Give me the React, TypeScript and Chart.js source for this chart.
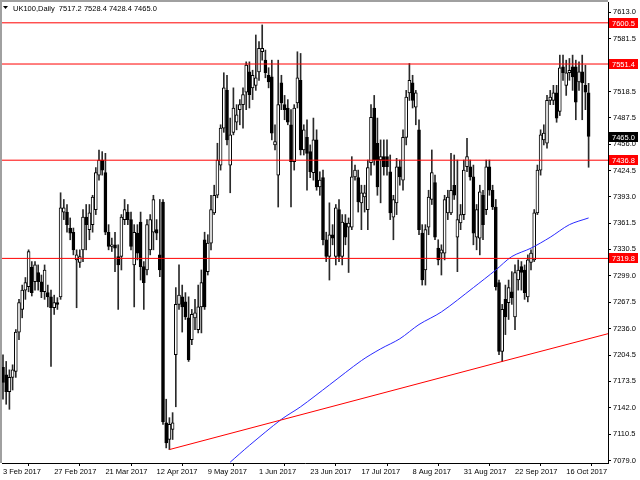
import React, { useEffect, useRef } from 'react';
import { Chart, registerables } from 'chart.js';

Chart.register(...registerables);

// ---------- data ----------
const symbolTitle = 'UK100,Daily';

const opens = [
  7190, 7181, 7161, 7178, 7185, 7232, 7259, 7282, 7286, 7309,
  7292, 7303, 7292, 7280, 7279, 7274, 7261, 7267, 7274, 7375,
  7375, 7356, 7351, 7318, 7315, 7330, 7369, 7354, 7360, 7378,
  7419, 7437, 7422, 7351, 7334, 7336, 7322, 7322, 7366, 7375,
  7366, 7312, 7350, 7363, 7310, 7306, 7330, 7351, 7354, 7324,
  7387, 7124, 7104, 7116, 7205, 7265, 7274, 7268, 7249, 7223,
  7249, 7235, 7262, 7342, 7304, 7338, 7374, 7395, 7431, 7475,
  7520, 7431, 7470, 7482, 7497, 7503, 7518, 7542, 7523, 7526,
  7542, 7566, 7556, 7538, 7536, 7455, 7419, 7529, 7503, 7499,
  7479, 7435, 7505, 7532, 7449, 7464, 7447, 7422, 7461, 7405,
  7416, 7342, 7322, 7348, 7322, 7378, 7322, 7362, 7357, 7357,
  7417, 7416, 7386, 7393, 7378, 7434, 7499, 7457, 7437, 7441,
  7441, 7423, 7369, 7386, 7429, 7413, 7464, 7517, 7529, 7500,
  7473, 7350, 7306, 7357, 7390, 7410, 7332, 7326, 7326, 7374,
  7374, 7407, 7345, 7362, 7372, 7429, 7429, 7417, 7345, 7344,
  7395, 7378, 7429, 7401, 7381, 7291, 7209, 7271, 7267, 7280,
  7250, 7294, 7310, 7306, 7274, 7315, 7318, 7374, 7425, 7461,
  7457, 7508, 7508, 7517, 7495, 7548, 7526, 7541, 7548, 7548,
  7530, 7542, 7526, 7517.2,
];
const highs = [
  7205, 7197, 7187, 7193, 7235, 7271, 7288, 7297, 7330, 7316,
  7316, 7312, 7300, 7312, 7288, 7282, 7276, 7273, 7398, 7390,
  7384, 7368, 7356, 7330, 7330, 7378, 7384, 7384, 7395, 7428,
  7449, 7447, 7445, 7360, 7344, 7351, 7336, 7372, 7390, 7384,
  7375, 7360, 7360, 7375, 7316, 7366, 7372, 7395, 7366, 7390,
  7390, 7152, 7130, 7136, 7285, 7312, 7288, 7279, 7274, 7259,
  7271, 7288, 7306, 7351, 7348, 7395, 7407, 7457, 7479, 7541,
  7538, 7487, 7523, 7503, 7509, 7523, 7554, 7554, 7544, 7586,
  7578, 7598, 7568, 7547, 7556, 7479, 7556, 7538, 7514, 7509,
  7497, 7503, 7566, 7564, 7479, 7485, 7455, 7487, 7473, 7423,
  7425, 7351, 7386, 7360, 7384, 7390, 7372, 7372, 7368, 7441,
  7431, 7425, 7407, 7407, 7437, 7503, 7514, 7487, 7461, 7461,
  7461, 7443, 7395, 7439, 7437, 7473, 7520, 7552, 7538, 7520,
  7485, 7360, 7360, 7401, 7449, 7419, 7342, 7336, 7395, 7401,
  7445, 7443, 7437, 7384, 7437, 7463, 7437, 7431, 7384, 7407,
  7401, 7437, 7437, 7407, 7390, 7294, 7265, 7288, 7294, 7304,
  7312, 7318, 7316, 7312, 7324, 7330, 7378, 7431, 7473, 7479,
  7514, 7520, 7526, 7526, 7562, 7562, 7556, 7558, 7562, 7556,
  7554, 7562, 7550, 7528.4,
];
const lows = [
  7152, 7146, 7140, 7163, 7178, 7223, 7249, 7271, 7280, 7275,
  7282, 7282, 7273, 7271, 7262, 7191, 7253, 7259, 7271, 7366,
  7351, 7342, 7324, 7261, 7309, 7316, 7330, 7342, 7351, 7372,
  7413, 7419, 7348, 7330, 7328, 7304, 7259, 7306, 7360, 7360,
  7330, 7262, 7318, 7294, 7259, 7300, 7324, 7330, 7342, 7298,
  7122, 7094, 7092, 7104, 7143, 7259, 7232, 7247, 7197, 7217,
  7235, 7231, 7231, 7259, 7300, 7330, 7372, 7392, 7425, 7470,
  7455, 7398, 7467, 7473, 7479, 7475, 7497, 7499, 7509, 7520,
  7532, 7556, 7535, 7523, 7461, 7449, 7381, 7497, 7485, 7479,
  7381, 7425, 7499, 7443, 7443, 7401, 7416, 7413, 7401, 7395,
  7336, 7316, 7294, 7336, 7312, 7316, 7312, 7336, 7303, 7354,
  7413, 7375, 7354, 7375, 7354, 7419, 7431, 7395, 7386, 7419,
  7419, 7366, 7342, 7372, 7407, 7401, 7455, 7508, 7499, 7479,
  7348, 7288, 7288, 7348, 7384, 7342, 7312, 7300, 7318, 7366,
  7372, 7390, 7304, 7354, 7366, 7423, 7413, 7336, 7330, 7324,
  7342, 7372, 7395, 7378, 7282, 7205, 7197, 7229, 7247, 7265,
  7235, 7282, 7282, 7271, 7268, 7306, 7316, 7372, 7419, 7455,
  7451, 7503, 7503, 7482, 7490, 7532, 7514, 7532, 7520, 7485,
  7520, 7485, 7497, 7428.4,
];
const closes = [
  7172, 7161, 7178, 7187, 7232, 7267, 7282, 7291, 7328, 7279,
  7312, 7292, 7280, 7306, 7274, 7261, 7267, 7265, 7380, 7380,
  7360, 7350, 7330, 7324, 7322, 7369, 7360, 7374, 7393, 7422,
  7437, 7425, 7351, 7334, 7336, 7332, 7312, 7369, 7378, 7366,
  7334, 7351, 7326, 7310, 7291, 7360, 7366, 7390, 7350, 7306,
  7125, 7100, 7122, 7124, 7265, 7276, 7262, 7250, 7199, 7253,
  7255, 7262, 7291, 7262, 7338, 7378, 7395, 7437, 7475, 7523,
  7461, 7467, 7499, 7491, 7503, 7515, 7550, 7515, 7538, 7535,
  7570, 7570, 7541, 7530, 7469, 7459, 7503, 7505, 7497, 7482,
  7435, 7499, 7535, 7449, 7473, 7445, 7423, 7461, 7405, 7413,
  7342, 7322, 7348, 7344, 7380, 7322, 7363, 7345, 7362, 7417,
  7425, 7387, 7398, 7398, 7428, 7488, 7437, 7405, 7441, 7429,
  7429, 7374, 7390, 7429, 7417, 7464, 7512, 7532, 7508, 7517,
  7354, 7294, 7354, 7393, 7422, 7345, 7318, 7330, 7390, 7393,
  7401, 7395, 7366, 7372, 7425, 7441, 7417, 7350, 7378, 7399,
  7360, 7429, 7401, 7381, 7286, 7209, 7259, 7250, 7285, 7273,
  7303, 7306, 7303, 7279, 7318, 7326, 7374, 7425, 7467, 7469,
  7508, 7512, 7517, 7487, 7547, 7541, 7541, 7544, 7536, 7506,
  7542, 7529, 7518, 7465.0,
];

const dateTickIndex = [0, 16, 32, 48, 64, 80, 96, 112, 128, 144, 160, 176];
const dateTickLabels = [
  '3 Feb 2017', '27 Feb 2017', '21 Mar 2017', '12 Apr 2017', '9 May 2017', '1 Jun 2017',
  '23 Jun 2017', '17 Jul 2017', '8 Aug 2017', '31 Aug 2017', '22 Sep 2017', '16 Oct 2017',
];
const priceTicks = [
  7613.0, 7581.5, 7550.0, 7518.5, 7487.5, 7456.0, 7424.5, 7393.0, 7361.5,
  7330.5, 7299.0, 7267.5, 7236.0, 7204.5, 7173.5, 7142.0, 7110.5, 7079.0,
];
const levelLines = [7600.5, 7551.4, 7436.8, 7319.8];

const maIndex = [71, 77, 87, 93, 102, 112, 118, 124, 130, 137, 147, 154, 159, 165, 171, 177, 183];
const maValues = [7077, 7097, 7128, 7143, 7169, 7198, 7212, 7224, 7241, 7256, 7285, 7306, 7322, 7332, 7345, 7360, 7368];

const trendIndex = [52, 156, 190];
const trendValues = [7092, 7197, 7231];

const priceMin = 7076.0;
const priceMax = 7625.3;
const barMin = -0.3125;
const barMax = 189.06;

const FONT = '7.5px "Liberation Sans", Arial, sans-serif';

export default function App() {
  const ref = useRef<HTMLCanvasElement | null>(null);

  useEffect(() => {
    const canvas = ref.current;
    if (!canvas) return;
    const n = closes.length;
    const idx = Array.from({ length: n }, (_, i) => i);
    const bodyColors = idx.map((i) => (closes[i] >= opens[i] ? '#ffffff' : '#000000'));

    const overlay = {
      id: 'overlay',
      beforeDraw(chart: any) {
        const ctx = chart.ctx;
        ctx.save();
        ctx.fillStyle = '#ffffff';
        ctx.fillRect(0, 0, chart.width, chart.height);
        ctx.restore();
      },
      afterDraw(chart: any) {
        const { ctx, chartArea } = chart;
        const y = chart.scales.y;
        ctx.save();
        // frame
        ctx.fillStyle = '#a0a0a0';
        ctx.fillRect(0, 0, chartArea.right, 2);
        ctx.fillRect(0, 0, 2, chartArea.bottom);
        // title
        ctx.fillStyle = '#000';
        ctx.beginPath();
        ctx.moveTo(3, 6);
        ctx.lineTo(8, 6);
        ctx.lineTo(5.5, 9);
        ctx.closePath();
        ctx.fill();
        ctx.font = FONT;
        ctx.textBaseline = 'middle';
        ctx.textAlign = 'left';
        const last = n - 1;
        ctx.fillText(
          `${symbolTitle}  ${opens[last].toFixed(1)} ${highs[last].toFixed(1)} ${lows[last].toFixed(1)} ${closes[last].toFixed(1)}`,
          13, 8.5,
        );
        // level labels
        const drawTag = (v: number, bg: string) => {
          const py = Math.round(y.getPixelForValue(v));
          ctx.fillStyle = bg;
          ctx.fillRect(chartArea.right + 1, py - 5, 29, 10);
          ctx.fillStyle = '#fff';
          ctx.fillText(v.toFixed(1), chartArea.right + 4, py + 0.5);
        };
        levelLines.forEach((v) => drawTag(v, '#ff0000'));
        drawTag(closes[last], '#000000');
        ctx.restore();
      },
    };

    const datasets: any[] = [
      {
        type: 'bar',
        data: idx.map((i) => ({ x: i, y: [lows[i], highs[i]] })),
        backgroundColor: '#2a2a2a',
        borderWidth: 0,
        barThickness: 1,
        grouped: false,
        order: 5,
      },
      {
        type: 'bar',
        data: idx.map((i) => ({ x: i, y: [opens[i], closes[i]] })),
        backgroundColor: bodyColors,
        borderColor: '#000',
        borderWidth: 1,
        borderSkipped: false,
        barThickness: 3,
        minBarLength: 1,
        grouped: false,
        order: 4,
      },
      {
        type: 'line',
        data: maIndex.map((x, i) => ({ x, y: maValues[i] })),
        borderColor: '#2a2aff',
        borderWidth: 1,
        pointRadius: 0,
        tension: 0.3,
        order: 2,
      },
      {
        type: 'line',
        data: trendIndex.map((x, i) => ({ x, y: trendValues[i] })),
        borderColor: '#ff0000',
        borderWidth: 1,
        pointRadius: 0,
        order: 1,
      },
      ...levelLines.map((v) => ({
        type: 'line',
        data: [
          { x: barMin, y: v },
          { x: barMax, y: v },
        ],
        borderColor: '#ff0000',
        borderWidth: 1,
        pointRadius: 0,
        order: 1,
      })),
    ];

    const chart = new Chart(canvas, {
      type: 'bar',
      data: { datasets },
      plugins: [overlay],
      options: {
        animation: false,
        responsive: false,
        devicePixelRatio: 1,
        events: [],
        layout: { padding: { left: 2, top: 2, right: 0, bottom: 0 } },
        plugins: { legend: { display: false }, tooltip: { enabled: false } },
        scales: {
          x: {
            type: 'linear',
            min: barMin,
            max: barMax,
            offset: false,
            grid: { display: true, drawOnChartArea: false, drawTicks: true, tickLength: 3, color: '#000' },
            border: { display: true, color: '#000' },
            afterBuildTicks: (s: any) => {
              s.ticks = dateTickIndex.map((v) => ({ value: v }));
            },
            afterFit: (s: any) => {
              s.height = 17;
              s.paddingLeft = 0;
              s.paddingRight = 0;
            },
            ticks: {
              autoSkip: false,
              maxRotation: 0,
              minRotation: 0,
              align: 'start',
              padding: 1,
              color: '#000',
              font: { family: '"Liberation Sans", Arial, sans-serif', size: 7.5 },
              callback: (_v: any, i: number) => dateTickLabels[i],
            },
          },
          y: {
            type: 'linear',
            position: 'right',
            min: priceMin,
            max: priceMax,
            grid: { display: true, drawOnChartArea: false, drawTicks: true, tickLength: 3, color: '#000' },
            border: { display: true, color: '#000' },
            afterBuildTicks: (s: any) => {
              s.ticks = priceTicks.map((v) => ({ value: v }));
            },
            afterFit: (s: any) => {
              s.width = 32;
              s.paddingTop = 0;
              s.paddingBottom = 0;
            },
            ticks: {
              padding: 2,
              color: '#000',
              font: { family: '"Liberation Sans", Arial, sans-serif', size: 7.5 },
              callback: (v: any) => Number(v).toFixed(1),
            },
          },
        },
      } as any,
    });
    return () => chart.destroy();
  }, []);

  return (
    <div style={{ position: 'fixed', left: 0, top: 0, width: 640, height: 480, background: '#fff' }}>
      <canvas ref={ref} width={640} height={480} style={{ display: 'block', width: 640, height: 480 }} />
    </div>
  );
}
